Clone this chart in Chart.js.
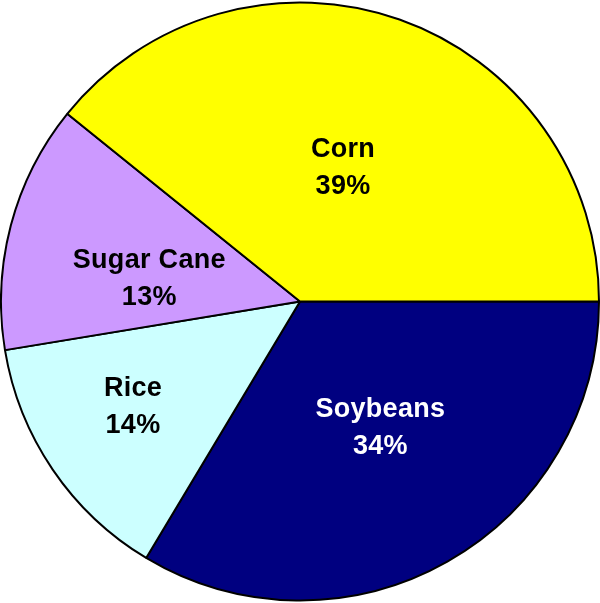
<!DOCTYPE html>
<html>
<head>
<meta charset="utf-8">
<script src="https://cdn.jsdelivr.net/npm/chart.js@4"></script>
<style>
  html, body { margin: 0; padding: 0; background: #fff; }
  #wrap { width: 600px; height: 603px; }
</style>
</head>
<body>
<div id="wrap"><canvas id="chart"></canvas></div>
<script>
const categories = ["Soybeans", "Rice", "Sugar Cane", "Corn"];
const shares = [33.6, 13.8, 13.4, 39.2];
const sliceColors = ["#000080", "#CCFFFF", "#CC99FF", "#FFFF00"];
const labelColors = ["#ffffff", "#000000", "#000000", "#000000"];

// label placement: fraction of radius and angle nudge (deg) per slice
const labelRadius = [0.5, 0.66, 0.51, 0.47];
const labelNudge = [-3, 2, -6, -1.6];

const sliceLabels = {
  id: "sliceLabels",
  afterDatasetsDraw(chart) {
    const ctx = chart.ctx;
    const meta = chart.getDatasetMeta(0);
    ctx.save();
    ctx.font = "bold 27px 'Liberation Sans', Arial, sans-serif";
    ctx.letterSpacing = "0.3px";
    ctx.textAlign = "center";
    ctx.textBaseline = "middle";
    meta.data.forEach((arc, i) => {
      const mid = (arc.startAngle + arc.endAngle) / 2 + labelNudge[i] * Math.PI / 180;
      const r = arc.outerRadius * labelRadius[i];
      const x = arc.x + Math.cos(mid) * r;
      const y = arc.y + Math.sin(mid) * r;
      ctx.fillStyle = labelColors[i];
      ctx.fillText(categories[i], x, y - 18);
      ctx.fillText(Math.round(shares[i]) + "%", x, y + 19);
    });
    ctx.restore();
  },
};

new Chart(document.getElementById("chart"), {
  type: "pie",
  data: {
    labels: categories,
    datasets: [
      {
        data: shares,
        backgroundColor: sliceColors,
        borderColor: "#000000",
        borderWidth: 2,
      },
    ],
  },
  options: {
    responsive: true,
    maintainAspectRatio: false,
    animation: false,
    rotation: 90,
    layout: { padding: 0 },
    plugins: {
      legend: { display: false },
      tooltip: { enabled: false },
    },
  },
  plugins: [sliceLabels],
});
</script>
</body>
</html>
